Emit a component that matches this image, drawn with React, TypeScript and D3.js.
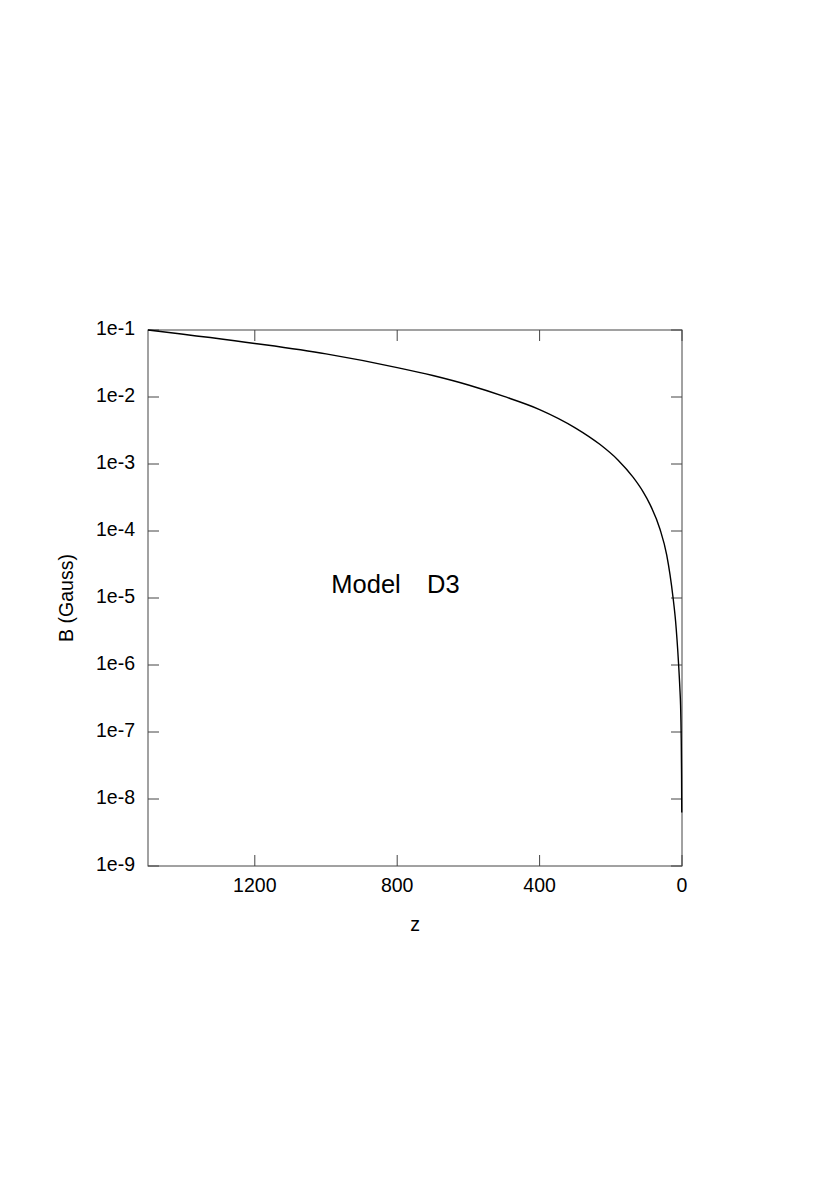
import * as d3 from 'd3';

// Field strength profile
const zValues = [1500, 1200, 1000, 800, 700, 600, 500, 400, 300, 230, 180, 137, 110, 90, 62, 43, 25, 18, 10, 6, 4, 2.2, 1.2, 0.7];
const bValues = [1.0e-1, 6.3e-2, 4.4e-2, 2.75e-2, 2.09e-2, 1.51e-2, 1.02e-2, 6.5e-3, 3.47e-3, 1.95e-3, 1.15e-3, 6.3e-4, 3.9e-4, 2.5e-4, 1.07e-4, 4.4e-5, 1.0e-5, 4.5e-6, 1.12e-6, 4.5e-7, 2.5e-7, 8.0e-8, 2.2e-8, 6.3e-9];

const xTicks = [1200, 800, 400, 0];
const yTicks = [1e-1, 1e-2, 1e-3, 1e-4, 1e-5, 1e-6, 1e-7, 1e-8, 1e-9];
const yTickLabels = ['1e-1', '1e-2', '1e-3', '1e-4', '1e-5', '1e-6', '1e-7', '1e-8', '1e-9'];

const width = 830;
const height = 1196;
const margin = { top: 330, right: 148, bottom: 330, left: 148 };
const font = '"Liberation Sans", Arial, Helvetica, sans-serif';

export default function App() {
    const x = d3.scaleLinear()
        .domain([1500, 0])
        .range([margin.left, width - margin.right]);

    const y = d3.scaleLog()
        .domain([1e-9, 1e-1])
        .range([height - margin.bottom, margin.top]);

    const data = zValues.map((z, i) => ({ z, b: bValues[i] }));

    const line = d3.line<{ z: number; b: number }>()
        .x(d => x(d.z))
        .y(d => y(d.b))
        .curve(d3.curveMonotoneX);

    const [x0, x1] = x.range();
    const [y0, y1] = y.range();
    const tick = 11;

    return (
        <svg width={width} height={height} style={{ position: 'absolute', left: 0, top: 0, background: '#fff' }}>
            {/* frame */}
            <rect x={x0} y={y1} width={x1 - x0} height={y0 - y1} fill="none" stroke="#444" strokeWidth={1} />

            {/* x ticks, top and bottom */}
            {xTicks.map(t => (
                <g key={'x' + t}>
                    <line x1={x(t)} x2={x(t)} y1={y0} y2={y0 - tick} stroke="#444" />
                    <line x1={x(t)} x2={x(t)} y1={y1} y2={y1 + tick} stroke="#444" />
                    <text x={x(t)} y={y0 + 21} textAnchor="middle" dominantBaseline="middle"
                        fontFamily={font} fontSize={19.5} fill="#000">{t}</text>
                </g>
            ))}

            {/* y ticks, left and right */}
            {yTicks.map((t, i) => (
                <g key={'y' + i}>
                    <line x1={x0} x2={x0 + tick} y1={y(t)} y2={y(t)} stroke="#444" />
                    <line x1={x1} x2={x1 - tick} y1={y(t)} y2={y(t)} stroke="#444" />
                    <text x={x0 - 13} y={y(t)} textAnchor="end" dominantBaseline="middle"
                        fontFamily={font} fontSize={19.5} fill="#000">{yTickLabels[i]}</text>
                </g>
            ))}

            {/* curve */}
            <path d={line(data) ?? ''} fill="none" stroke="#000" strokeWidth={1.4} />

            {/* labels */}
            <text x={(x0 + x1) / 2} y={y0 + 60} textAnchor="middle" dominantBaseline="middle"
                fontFamily={font} fontSize={19.5} fill="#000">z</text>
            <text transform={`translate(68,${(y0 + y1) / 2}) rotate(-90)`} textAnchor="middle" dominantBaseline="middle"
                fontFamily={font} fontSize={19.5} fill="#000">B (Gauss)</text>
            <text x={x(985)} y={y(1.5e-5)} textAnchor="start" dominantBaseline="middle"
                fontFamily={font} fontSize={25.5} fill="#000">Model</text>
            <text x={x(716)} y={y(1.5e-5)} textAnchor="start" dominantBaseline="middle"
                fontFamily={font} fontSize={25.5} fill="#000">D3</text>
        </svg>
    );
}
